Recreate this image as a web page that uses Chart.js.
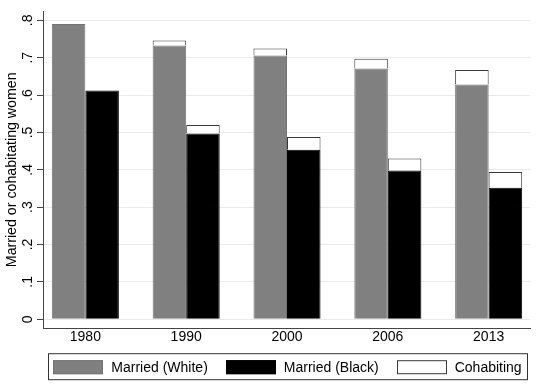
<!DOCTYPE html>
<html lang="en">
<head>
    <meta charset="UTF-8">
    <title>Married or cohabitating women</title>
    <script src="https://cdn.jsdelivr.net/npm/chart.js"></script>
    <style>
        html, body { margin: 0; padding: 0; background: #fff; }
    </style>
</head>
<body>
    <canvas id="chart" width="541" height="389"></canvas>
    <script>
        // data
        const years = ['1980', '1990', '2000', '2006', '2013'];
        const marriedWhite = [0.790, 0.733, 0.706, 0.671, 0.628];
        const cohabWhite = [null, 0.013, 0.019, 0.026, 0.039];
        const marriedBlack = [0.612, 0.497, 0.454, 0.398, 0.352];
        const cohabBlack = [null, 0.023, 0.034, 0.032, 0.042];
        const yTicks = [0, 0.1, 0.2, 0.3, 0.4, 0.5, 0.6, 0.7, 0.8];
        const yTickLabels = ['0', '.1', '.2', '.3', '.4', '.5', '.6', '.7', '.8'];
        const seriesNames = ['Married (White)', 'Married (Black)', 'Cohabiting'];

        const FONT = '"Liberation Sans", Arial, Helvetica, sans-serif';
        Chart.defaults.font.family = FONT;
        Chart.defaults.font.size = 14;
        Chart.defaults.color = '#000';

        const toPoints = arr => arr.map((v, i) => ({ x: i, y: v }));

        // legend with a frame round it, centred under the plot area (Stata style)
        const framedLegend = {
            id: 'framedLegend',
            afterDraw(chart) {
                const ctx = chart.ctx;
                const area = chart.chartArea;
                const ds = chart.data.datasets;
                const boxW = 50, boxH = 14, gap = 8, itemGap = 18;
                ctx.save();
                ctx.font = '14px ' + FONT;
                const widths = seriesNames.map(t => ctx.measureText(t).width);
                const total = widths.reduce((s, w) => s + boxW + gap + w, 0) + itemGap * (seriesNames.length - 1);
                let x = (area.left + area.right) / 2 - total / 2 + 1;
                const top = area.bottom + 25;
                ctx.strokeStyle = '#333';
                ctx.lineWidth = 1;
                ctx.strokeRect(Math.round(x - 5) + 0.5, top + 0.5, Math.round(total + 11), 26);
                seriesNames.forEach((name, i) => {
                    ctx.fillStyle = ds[i].backgroundColor;
                    ctx.fillRect(Math.round(x), top + 7, boxW, boxH);
                    ctx.strokeStyle = ds[i].borderColor;
                    ctx.strokeRect(Math.round(x) + 0.5, top + 7.5, boxW - 1, boxH - 1);
                    ctx.fillStyle = '#000';
                    ctx.textBaseline = 'middle';
                    ctx.textAlign = 'left';
                    ctx.fillText(name, x + boxW + gap, top + 7 + boxH / 2 + 0.5);
                    x += boxW + gap + widths[i] + itemGap;
                });
                ctx.restore();
            }
        };

        new Chart(document.getElementById('chart'), {
            type: 'bar',
            data: {
                datasets: [
                    { label: seriesNames[0], data: toPoints(marriedWhite), stack: 'white',
                      backgroundColor: '#808080', borderColor: '#747474', borderWidth: 1 },
                    { label: seriesNames[1], data: toPoints(marriedBlack), stack: 'black',
                      backgroundColor: '#000000', borderColor: '#000000', borderWidth: 1 },
                    { label: seriesNames[2], data: toPoints(cohabWhite), stack: 'white',
                      backgroundColor: '#ffffff', borderColor: '#3a3a3a', borderWidth: 1 },
                    { label: seriesNames[2], data: toPoints(cohabBlack), stack: 'black',
                      backgroundColor: '#ffffff', borderColor: '#3a3a3a', borderWidth: 1 }
                ]
            },
            options: {
                responsive: false,
                animation: false,
                devicePixelRatio: 1,
                layout: { padding: { top: 10, right: 11, bottom: 42, left: 0 } },
                datasets: { bar: { categoryPercentage: 0.665, barPercentage: 1 } },
                plugins: {
                    legend: { display: false },
                    tooltip: { enabled: false }
                },
                scales: {
                    x: {
                        type: 'linear',
                        stacked: true,
                        offset: false,
                        min: -0.42,
                        max: 4.41,
                        afterBuildTicks: s => { s.ticks = years.map((y, i) => ({ value: i })); },
                        ticks: { callback: v => years[v], padding: 1, maxRotation: 0, autoSkip: false },
                        grid: { drawOnChartArea: false, drawTicks: false, offset: false },
                        border: { color: '#444', width: 1 }
                    },
                    y: {
                        stacked: true,
                        min: -0.024,
                        max: 0.824,
                        afterBuildTicks: s => { s.ticks = yTicks.map(v => ({ value: v })); },
                        afterFit: s => { s.width = 43; },
                        ticks: {
                            callback: (v, i) => yTickLabels[i],
                            minRotation: 90, maxRotation: 90,
                            crossAlign: 'center', padding: 3
                        },
                        grid: { color: '#e3ecee', tickColor: '#444', tickLength: 6, lineWidth: 1 },
                        border: { color: '#444', width: 1 },
                        title: {
                            display: true,
                            text: 'Married or cohabitating women',
                            font: { size: 14.2 },
                            padding: { top: 3.5, bottom: 0 }
                        }
                    }
                }
            },
            plugins: [framedLegend]
        });
    </script>
</body>
</html>
